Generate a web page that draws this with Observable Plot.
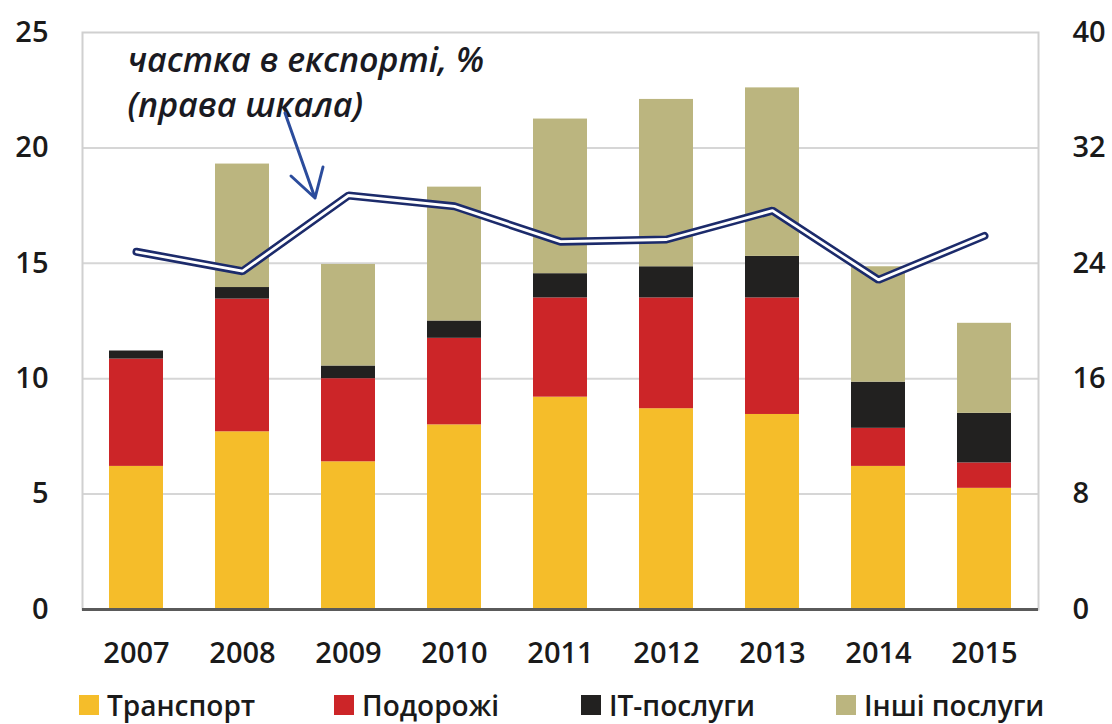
<!DOCTYPE html>
<html><head><meta charset="utf-8">
<script src="https://cdn.jsdelivr.net/npm/d3@7"></script>
<script src="https://cdn.jsdelivr.net/npm/@observablehq/plot@0.6"></script>
<style>
body{margin:0;background:#fff;font-family:"Open Sans",sans-serif;}
#chart{position:relative;width:1112px;height:724px;overflow:hidden;background:#fff}
.legend{position:absolute;top:688px;left:0;width:1112px;height:34px;}
.item{position:absolute;top:0;height:34px;display:flex;align-items:center;font-size:28px;font-weight:600;color:#1a1a1a;white-space:nowrap;line-height:34px}
.sw{width:20px;height:20px;margin-right:8px;flex:none}
</style></head><body><div id="chart"></div><script>
const years = ["2007","2008","2009","2010","2011","2012","2013","2014","2015"];
const categories = ["Транспорт","Подорожі","IT-послуги","Інші послуги"];
const colors = ["#F5BD2A","#CC2528","#222120","#BBB57F"];
const transport = [6.2,7.7,6.4,8.0,9.2,8.7,8.45,6.2,5.25];
const travel = [4.65,5.75,3.6,3.75,4.3,4.8,5.05,1.65,1.1];
const itServices = [0.35,0.5,0.55,0.75,1.05,1.35,1.8,2.0,2.15];
const otherServices = [0,5.35,4.4,5.8,6.7,7.25,7.3,5.0,3.9];
const exportShare = [24.8,23.45,28.7,27.95,25.5,25.65,27.65,22.85,25.9];
const leftTicks = [0,5,10,15,20,25];
const rightTicks = [0,8,16,24,32,40];
const annotation = "частка в експорті, %\n(права шкала)";

const series = [transport, travel, itServices, otherServices];
const bars = [];
years.forEach((yr, i) => categories.forEach((c, j) => bars.push({year: yr, category: c, value: series[j][i]})));
const shares = years.map((yr, i) => ({year: yr, share: exportShare[i]}));
const ratio = leftTicks[leftTicks.length-1] / rightTicks[rightTicks.length-1];

function arrowMark(index, scales, values, dims) {
  const ns = "http://www.w3.org/2000/svg";
  const ox = dims.marginLeft, oy = dims.marginTop;
  const p = document.createElementNS(ns, "path");
  p.setAttribute("d", `M${ox+203},${oy+81}L${ox+233},${oy+166}M${ox+209},${oy+144}L${ox+233},${oy+166}L${ox+241},${oy+135}`);
  p.setAttribute("fill", "none");
  p.setAttribute("stroke", "#2B4C9C");
  p.setAttribute("stroke-width", "3");
  p.setAttribute("stroke-linecap", "round");
  p.setAttribute("stroke-linejoin", "round");
  return p;
}

const chart = Plot.plot({
  width: 1112, height: 688,
  marginLeft: 82, marginRight: 74, marginTop: 32, marginBottom: 79,
  style: {fontFamily: "'Open Sans', sans-serif", fontSize: "29px", fontWeight: 600, color: "#1a1a1a", background: "white", overflow: "visible"},
  x: {type: "band", domain: years, paddingInner: 0.49, paddingOuter: 0.245, label: null},
  y: {domain: [0, 25], label: null},
  color: {domain: categories, range: colors},
  marks: [
    Plot.ruleY(leftTicks.slice(1, -1), {stroke: "#d6d6d6", strokeWidth: 2}),
    Plot.frame({stroke: "#d0d0d0", strokeWidth: 2}),
    Plot.barY(bars, Plot.stackY({x: "year", y: "value", fill: "category", order: categories})),
    Plot.ruleY([0], {stroke: "#5a5a5a", strokeWidth: 3}),
    Plot.axisX({tickSize: 0, tickPadding: 33, fontSize: 29, fontWeight: 600, label: null}),
    Plot.axisY(leftTicks, {anchor: "left", tickSize: 0, tickPadding: 34, fontSize: 29, fontWeight: 600, label: null}),
    Plot.axisY(rightTicks.map(v => v * ratio), {anchor: "right", tickSize: 0, tickPadding: 34, fontSize: 29, fontWeight: 600, label: null, tickFormat: d => String(Math.round(d / ratio))}),
    Plot.line(shares, {x: "year", y: d => d.share * ratio, stroke: "#1C2B6B", strokeWidth: 8, strokeLinecap: "round", strokeLinejoin: "miter"}),
    Plot.line(shares, {x: "year", y: d => d.share * ratio, stroke: "white", strokeWidth: 2.8, strokeLinecap: "round", strokeLinejoin: "miter"}),
    Plot.text([annotation], {text: d => d, frameAnchor: "top-left", dx: 45, dy: 8, textAnchor: "start", lineAnchor: "top", lineHeight: 1.32, fontSize: 34, fontStyle: "italic", fontWeight: 600, fill: "#1a1a22"}),
    arrowMark
  ]
});

const root = document.getElementById("chart");
root.appendChild(chart);
const legend = document.createElement("div");
legend.className = "legend";
const legendLeft = [79, 334, 581, 836];
categories.forEach((c, j) => {
  const it = document.createElement("div");
  it.className = "item";
  it.style.left = legendLeft[j] + "px";
  const sw = document.createElement("span");
  sw.className = "sw";
  sw.style.background = colors[j];
  const t = document.createElement("span");
  t.textContent = c;
  it.appendChild(sw); it.appendChild(t);
  legend.appendChild(it);
});
root.appendChild(legend);
</script></body></html>
